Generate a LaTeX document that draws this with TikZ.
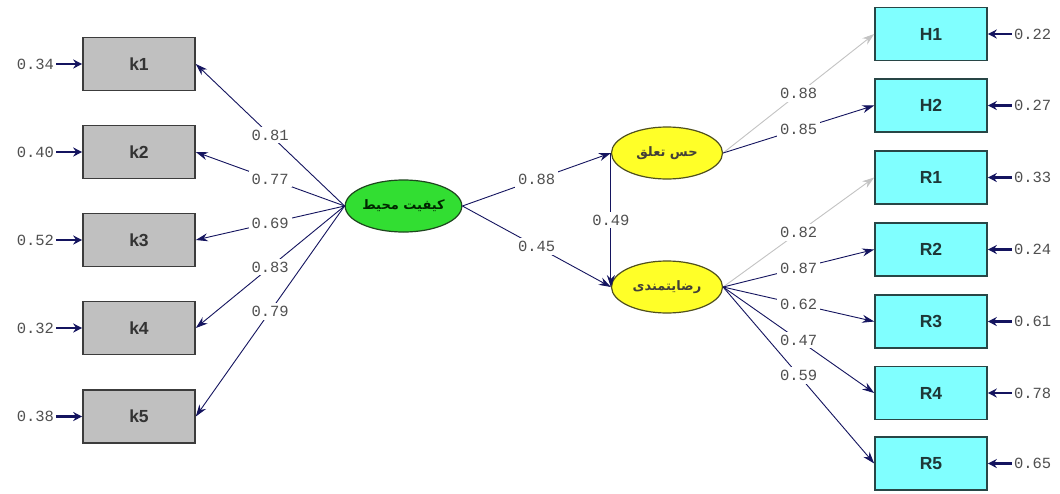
\documentclass[tikz,border=0pt]{standalone}
\usepackage{fontspec}
\setmainfont{Liberation Sans}
\newfontfamily\monofont{Liberation Mono}
\newfontfamily\arabicfont[Script=Arabic]{DejaVu Sans}
\TeXXeTstate=1
\usetikzlibrary{shapes.geometric,arrows.meta}
\definecolor{navyline}{RGB}{20,20,95}
\definecolor{fixgray}{RGB}{195,195,195}
\definecolor{kgray}{RGB}{192,192,192}
\definecolor{kborder}{RGB}{60,60,60}
\definecolor{cyanfill}{RGB}{128,255,255}
\definecolor{cyanborder}{RGB}{40,70,70}
\definecolor{boxtext}{RGB}{30,55,55}
\definecolor{greenfill}{RGB}{50,222,50}
\definecolor{greenborder}{RGB}{30,70,30}
\definecolor{yellowfill}{RGB}{255,255,40}
\definecolor{yellowborder}{RGB}{80,80,30}
\definecolor{coefgray}{RGB}{80,80,80}
\tikzset{
  obs/.style={draw=kborder, line width=1.6pt, minimum width=112pt, minimum height=53pt, inner sep=0pt,
    font=\fontsize{17.5}{17.5}\selectfont\bfseries, text=boxtext},
  kbox/.style={obs, fill=kgray, text=black!80},
  hbox/.style={obs, fill=cyanfill, draw=cyanborder},
  lat/.style={ellipse, line width=1.2pt, minimum width=111pt, minimum height=52pt, inner sep=0pt,
    font=\arabicfont\bfseries\fontsize{13}{13}\selectfont},
  greenlat/.style={lat, draw=greenborder, fill=greenfill, text=black!85!green},
  yellowlat/.style={lat, draw=yellowborder, fill=yellowfill, text=black!85!yellow},
  pathline/.style={draw=navyline, line width=0.9pt, -{Stealth[length=12pt,width=8pt]}},
  fixline/.style={draw=fixgray, line width=0.9pt, -{Stealth[length=12pt,width=8pt]}},
  coef/.style={font=\monofont\fontsize{15.5}{15.5}\selectfont, text=coefgray, fill=white, inner sep=3pt},
  errlabel/.style={font=\monofont\fontsize{15.5}{15.5}\selectfont, text=coefgray, inner sep=2pt},
  errline/.style={draw=navyline, line width=2.4pt, -{Stealth[length=9pt,width=9pt]}}
}
\begin{document}
\begin{tikzpicture}[x=1pt,y=-1pt]
\useasboundingbox[fill=white] (0,0) rectangle (1060,493);
% left observed
\node[kbox] (k1) at (139,64) {k1};
\node[kbox] (k2) at (139,152) {k2};
\node[kbox] (k3) at (139,240) {k3};
\node[kbox] (k4) at (139,328) {k4};
\node[kbox] (k5) at (139,416.5) {k5};
% right observed
\node[hbox] (H1) at (931,34) {H1};
\node[hbox] (H2) at (931,105.5) {H2};
\node[hbox] (R1) at (931,177.5) {R1};
\node[hbox] (R2) at (931,249.5) {R2};
\node[hbox] (R3) at (931,321.5) {R3};
\node[hbox] (R4) at (931,393) {R4};
\node[hbox] (R5) at (931,463.5) {R5};
% latent
\node[greenlat] (G) at (403.5,206) {\beginR کیفیت محیط\endR};
\node[yellowlat] (T) at (667,153) {\beginR حس تعلق\endR};
\node[yellowlat] (B) at (667,287) {\beginR رضایتمندی\endR};
% loadings left
\draw[pathline] (G.west) -- node[coef]{0.81} (k1.east);
\draw[pathline] (G.west) -- node[coef]{0.77} (k2.east);
\draw[pathline] (G.west) -- node[coef]{0.69} (k3.east);
\draw[pathline] (G.west) -- node[coef]{0.83} (k4.east);
\draw[pathline] (G.west) -- node[coef]{0.79} (k5.east);
% structural
\draw[pathline] (G.east) -- node[coef]{0.88} (T.west);
\draw[pathline] (G.east) -- node[coef]{0.45} (B.west);
\draw[pathline] (T.west) -- node[coef]{0.49} (B.west);
% loadings right
\draw[fixline] (T.east) -- node[coef]{0.88} (H1.west);
\draw[pathline] (T.east) -- node[coef]{0.85} (H2.west);
\draw[fixline] (B.east) -- node[coef]{0.82} (R1.west);
\draw[pathline] (B.east) -- node[coef]{0.87} (R2.west);
\draw[pathline] (B.east) -- node[coef]{0.62} (R3.west);
\draw[pathline] (B.east) -- node[coef]{0.47} (R4.west);
\draw[pathline] (B.east) -- node[coef]{0.59} (R5.west);
% error terms left
\foreach \k/\v in {k1/0.34,k2/0.40,k3/0.52,k4/0.32,k5/0.38}{
  \node[errlabel, anchor=east] (e\k) at ([xshift=-26pt]\k.west) {\v};
  \draw[errline] (e\k.east) -- (\k.west);
}
% error terms right
\foreach \k/\v in {H1/0.22,H2/0.27,R1/0.33,R2/0.24,R3/0.61,R4/0.78,R5/0.65}{
  \node[errlabel, anchor=west] (e\k) at ([xshift=24pt]\k.east) {\v};
  \draw[errline] (e\k.west) -- (\k.east);
}
\end{tikzpicture}
\end{document}
